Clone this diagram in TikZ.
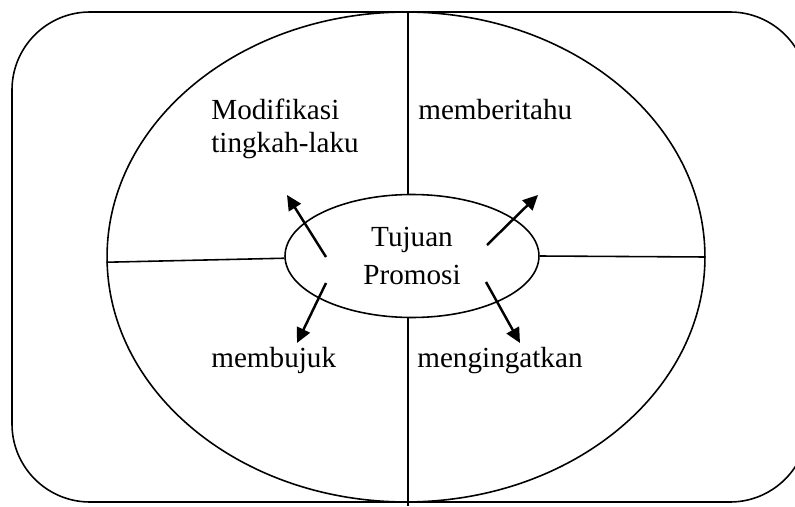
\documentclass[tikz,border=0pt]{standalone}
\usepackage{fontspec}
\setmainfont{Liberation Serif}
\usetikzlibrary{shapes.geometric,arrows.meta}

\tikzset{
  garis/.style={line width=0.9pt},
  panah/.style={line width=1.4pt,-{Triangle[length=8.5pt,width=8pt]}},
  teks/.style={inner sep=0pt,anchor=base west,font=\fontsize{16.6}{18.7}\selectfont}
}

\begin{document}
\begin{tikzpicture}[x=0.02cm,y=-0.02cm]

\useasboundingbox (0,0) rectangle (795,507);

% Frame
\draw[garis,rounded corners=1.56cm] (12,12) rectangle (808,502);

% Ellipses
\node[garis,draw,ellipse,inner sep=0pt,minimum width=11.96cm,minimum height=9.8cm] (lingkar) at (406,257) {};
\node[garis,draw,ellipse,inner sep=0pt,minimum width=5.08cm,minimum height=2.46cm,
      align=center,font=\fontsize{16.6}{21.5}\selectfont] (tujuan) at (412,256) {Tujuan\\Promosi};

% Dividers
\coordinate (atas) at (408,12);
\coordinate (bawah) at (408,506);
\draw[garis] (atas) -- (atas |- tujuan.north);
\draw[garis] (atas |- tujuan.south) -- (bawah);
\draw[garis] (lingkar.181) -- (tujuan.181);
\draw[garis] (tujuan.east) -- (lingkar.east);

% Labels
\node[teks] (modif) at (211,119) {Modifikasi};
\node[teks] (tingkah) at (211,152) {tingkah-laku};
\node[teks] (beritahu) at (418,119) {memberitahu};
\node[teks] (bujuk) at (211,367) {membujuk};
\node[teks] (ingat) at (417,367) {mengingatkan};

% Arrows
\coordinate (ul0) at (326,257); \coordinate (ul1) at (287,195);
\coordinate (ur0) at (487,245); \coordinate (ur1) at (538,195);
\coordinate (ll0) at (326,283); \coordinate (ll1) at (297,343);
\coordinate (lr0) at (486,282); \coordinate (lr1) at (520,343);
\draw[panah] (ul0) -- (ul1);
\draw[panah] (ur0) -- (ur1);
\draw[panah] (ll0) -- (ll1);
\draw[panah] (lr0) -- (lr1);

\end{tikzpicture}
\end{document}
